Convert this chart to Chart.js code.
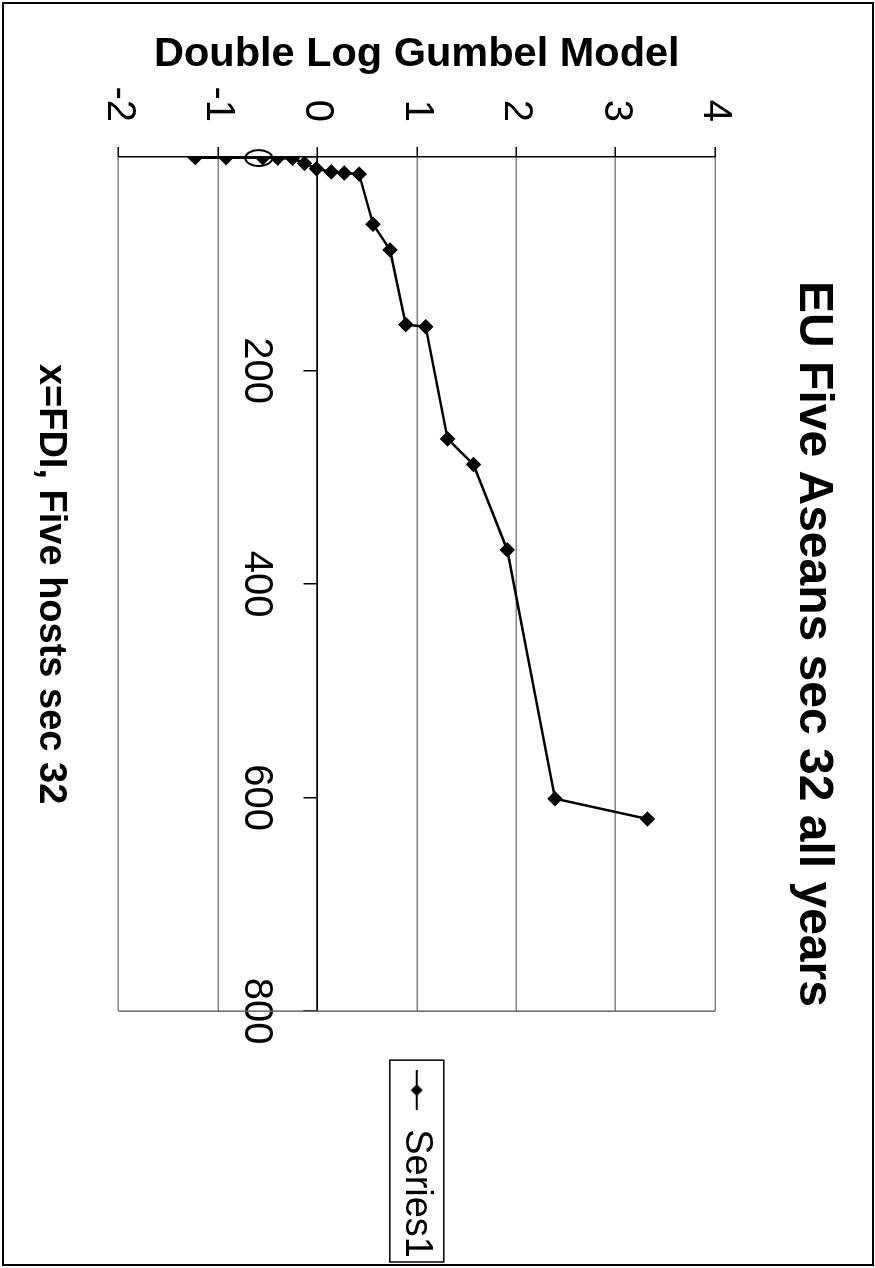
<!DOCTYPE html>
<html>
<head>
<meta charset="utf-8">
<script src="https://cdn.jsdelivr.net/npm/chart.js@4.4.1/dist/chart.umd.min.js"></script>
<style>
  html, body { margin: 0; padding: 0; background: #fff; overflow: hidden; }
  /* the scanned chart lies on its side: draw it upright, then turn it a quarter clockwise */
  #page { position: absolute; left: 0; top: 0; width: 1268px; height: 875px;
          transform-origin: 0 0; transform: translate(875px, 0) rotate(90deg); }
</style>
</head>
<body>
<div id="page"><canvas id="gumbel" width="1268" height="875"></canvas></div>
<script>
const seriesName = 'Series1';
const fdi    = [0.5, 0.6, 0.8, 1, 1.2, 6, 11, 14, 15, 16, 63, 87, 157, 159, 264, 288, 368, 601, 620];
const gumbel = [-1.23, -0.92, -0.55, -0.40, -0.25, -0.13, -0.01, 0.14, 0.27, 0.42, 0.56, 0.73, 0.89, 1.09, 1.31, 1.57, 1.91, 2.39, 3.32];
const xTicks = [0, 200, 400, 600, 800];
const yTicks = [-2, -1, 0, 1, 2, 3, 4];
// pen ring on the scan around the third point
const ringAt = { x: 1, y: -0.59 };

const FONT = 'Arial, "Liberation Sans", sans-serif';

// legend key: short line with a diamond
const legendMark = document.createElement('canvas');
legendMark.width = 40;
legendMark.height = 14;
const lm = legendMark.getContext('2d');
lm.strokeStyle = '#000';
lm.lineWidth = 2;
lm.beginPath(); lm.moveTo(0, 7); lm.lineTo(40, 7); lm.stroke();
lm.beginPath(); lm.moveTo(20, 1); lm.lineTo(26, 7); lm.lineTo(20, 13); lm.lineTo(14, 7); lm.closePath(); lm.fill();

const framePlugin = {
  id: 'frame',
  afterDraw(chart) {
    const { ctx, chartArea: a, legend, scales } = chart;
    ctx.save();
    // far edge of the plot area
    ctx.strokeStyle = '#666';
    ctx.lineWidth = 1.5;
    ctx.beginPath(); ctx.moveTo(a.right, a.top); ctx.lineTo(a.right, a.bottom); ctx.stroke();
    // box round the legend
    const hb = legend.legendHitBoxes[0];
    ctx.strokeStyle = '#000';
    ctx.lineWidth = 1.5;
    const bl = hb.left - 10, bt = hb.top - 8;
    ctx.strokeRect(bl, bt, Math.min(hb.left + hb.width + 6, 1262) - bl, hb.height + 16);
    // ring
    ctx.lineWidth = 2;
    ctx.beginPath();
    ctx.ellipse(scales.x.getPixelForValue(ringAt.x), scales.y.getPixelForValue(ringAt.y), 8, 13.5, 0, 0, Math.PI * 2);
    ctx.stroke();
    // page frame
    ctx.lineWidth = 2;
    ctx.strokeRect(3, 2, 1262, 870);
    ctx.restore();
  }
};

new Chart(document.getElementById('gumbel'), {
  type: 'line',
  data: {
    datasets: [{
      label: seriesName,
      data: fdi.map((x, i) => ({ x: x, y: gumbel[i] })),
      borderColor: '#000',
      backgroundColor: '#000',
      borderWidth: 2.5,
      pointStyle: 'rectRot',
      pointRadius: 6,
      pointBackgroundColor: '#000',
      pointBorderColor: '#000',
      tension: 0
    }]
  },
  options: {
    responsive: false,
    animation: false,
    events: [],
    layout: { padding: { left: 20, right: 0, top: 0, bottom: 20 } },
    plugins: {
      title: {
        display: true,
        text: 'EU Five Aseans sec 32 all years',
        color: '#000',
        font: { family: FONT, size: 48, weight: 'bold' },
        padding: { top: 33, bottom: 69.4 }
      },
      legend: {
        position: 'right',
        fullSize: false,
        labels: {
          color: '#000',
          font: { family: FONT, size: 38 },
          usePointStyle: true,
          pointStyle: legendMark,
          pointStyleWidth: 40,
          padding: 10
        }
      },
      tooltip: { enabled: false }
    },
    scales: {
      x: {
        type: 'linear',
        position: { y: 0 },
        min: xTicks[0],
        max: xTicks[xTicks.length - 1],
        afterBuildTicks: s => { s.ticks = xTicks.map(v => ({ value: v })); },
        ticks: {
          color: '#000',
          font: { family: FONT, size: 40 },
          padding: 24,
          maxRotation: 0,
          callback: v => (v === 0 ? '' : v)
        },
        grid: { drawOnChartArea: false, tickLength: 13, color: '#000', lineWidth: 1.5 },
        border: { color: '#000', width: 1.5 }
      },
      xTitle: {
        type: 'linear',
        axis: 'x',
        position: 'bottom',
        grid: { display: false },
        border: { display: false },
        ticks: { display: false },
        title: {
          display: true,
          text: 'x=FDI, Five hosts sec 32',
          color: '#000',
          font: { family: FONT, size: 38, weight: 'bold' },
          padding: { top: 37, bottom: 8 }
        }
      },
      y: {
        type: 'linear',
        min: yTicks[0],
        max: yTicks[yTicks.length - 1],
        afterBuildTicks: s => { s.ticks = yTicks.map(v => ({ value: v })); },
        afterFit: s => { s.width = 137; },
        ticks: {
          color: '#000',
          font: { family: FONT, size: 40 },
          padding: 25
        },
        grid: {
          color: c => (c.tick && c.tick.value === 0 ? '#000' : '#858585'),
          lineWidth: 1.5,
          tickLength: 10,
          tickColor: '#000'
        },
        border: { color: '#000', width: 1.5 },
        title: {
          display: true,
          text: 'Double Log Gumbel Model',
          color: '#000',
          font: { family: FONT, size: 41.5, weight: 'bold' },
          padding: { top: 10, bottom: 9 }
        }
      },
      gap: {
        type: 'linear',
        axis: 'y',
        position: 'right',
        grid: { display: false },
        border: { display: false },
        ticks: { display: false },
        afterFit: s => { s.width = 49; }
      }
    }
  },
  plugins: [framePlugin]
});
</script>
</body>
</html>
